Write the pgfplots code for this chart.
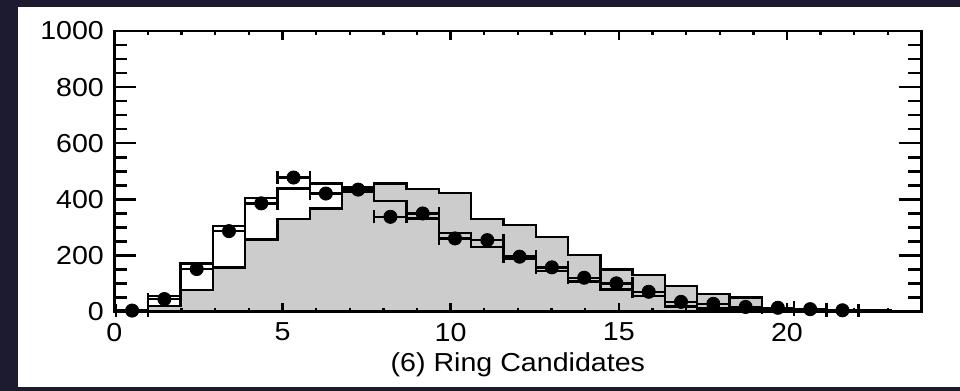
\documentclass[border=0pt]{standalone}
\usepackage{pgfplots}
\pgfplotsset{compat=1.18}
\usepackage{fontspec}
\setmainfont{Liberation Sans}[FakeStretch=1.1]
\definecolor{framebg}{HTML}{1D1B30}
\definecolor{histgray}{HTML}{CCCCCC}

\pgfplotsset{
  ringaxis/.style={
    at={(57.15pt,39.65pt)}, anchor=south west,
    scale only axis, width=403.6pt, height=140.35pt,
    xmin=0, xmax=24, ymin=0, ymax=1000,
    tick align=inside,
    tick style={line width=1.2pt, black},
    axis line style={line width=1.2pt},
    font=\fontsize{13pt}{15pt}\selectfont,
    /pgf/number format/assume math mode=true,
    /pgf/number format/1000 sep={},
  },
}

\begin{document}
\begin{tikzpicture}
\fill[framebg] (0,0) rectangle (480pt,195.5pt);
\fill[white] (9pt,2pt) rectangle (480pt,192pt);

% histograms and data, with the y axis ticks
\begin{axis}[ringaxis,
  clip=false,
  xtick=\empty,
  ytick={0,200,...,1000},
  minor ytick={50,100,...,950},
  major tick length=11pt, minor tick length=6.5pt,
  yticklabel style={inner sep=0pt, xshift=-5pt},
  xlabel={(6) Ring Candidates},
  xlabel style={at={(axis description cs:0.5,0)}, anchor=base, inner sep=0pt, yshift=-30pt},
]
% second simulation (filled)
\addplot[const plot, fill=histgray, draw=black, line width=1.2pt] coordinates {
  (0.05,0) (1.01,20) (1.97,77) (2.93,158) (3.89,257) (4.85,330) (5.81,368)
  (6.77,445) (7.73,457) (8.69,437) (9.65,423) (10.61,330) (11.57,308)
  (12.53,267) (13.49,202) (14.45,151) (15.41,130) (16.37,91) (17.33,62)
  (18.29,50) (19.25,50)
} \closedcycle;
% first simulation (outline)
\addplot[const plot, draw=black, line width=1.2pt] coordinates {
  (0.05,0) (1.01,55) (1.97,172) (2.93,305) (3.89,406) (4.85,439) (5.81,457)
  (6.77,427) (7.73,395) (8.69,332) (9.65,280) (10.61,231) (11.57,190)
  (12.53,146) (13.49,107) (14.45,79) (15.41,55) (16.37,18) (17.33,12)
  (18.29,8) (19.25,6) (20.21,5) (21.17,5) (22.13,5) (23.09,5) (23.09,0)
};
% measured counts
\addplot[only marks, mark=*, mark size=3.3pt, black,
  error bars/.cd, x dir=both, x explicit,
  error bar style={line width=1.2pt, black},
  error mark options={rotate=90, mark size=3.25pt, line width=1.2pt, black},
] coordinates {
  (0.53,4) +- (0.48,0)   (1.49,45) +- (0.48,0)  (2.45,152) +- (0.48,0)
  (3.41,287) +- (0.48,0) (4.37,386) +- (0.48,0) (5.33,478) +- (0.48,0)
  (6.29,421) +- (0.48,0) (7.25,435) +- (0.48,0) (8.21,338) +- (0.48,0)
  (9.17,350) +- (0.48,0) (10.13,261) +- (0.48,0) (11.09,255) +- (0.48,0)
  (12.05,196) +- (0.48,0) (13.01,158) +- (0.48,0) (13.97,121) +- (0.48,0)
  (14.93,101) +- (0.48,0) (15.89,71) +- (0.48,0) (16.85,35) +- (0.48,0)
  (17.81,28) +- (0.48,0) (18.77,17) +- (0.48,0) (19.73,14) +- (0.48,0)
  (20.69,9) +- (0.48,0)  (21.65,5) +- (0.48,0)
};
\end{axis}

% x axis ticks drawn over the histograms
\begin{axis}[ringaxis,
  ytick=\empty,
  xtick={0,5,...,20},
  minor xtick={0,1,...,24},
  major tick length=4.5pt, minor tick length=2pt,
  xticklabel style={anchor=north, inner sep=0pt, yshift=-5.5pt},
]
\end{axis}
\end{tikzpicture}
\end{document}
